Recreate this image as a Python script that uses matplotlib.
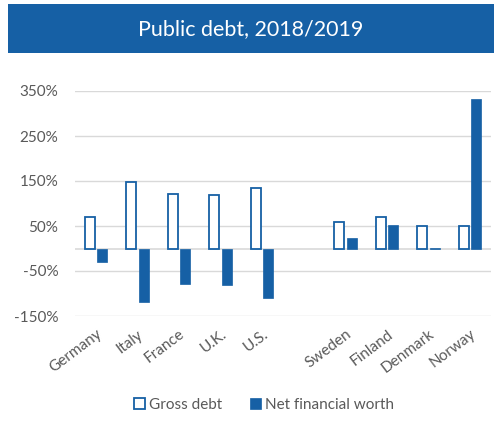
import matplotlib
matplotlib.use("Agg")
import matplotlib.pyplot as plt
import numpy as np
from matplotlib.patches import Rectangle

countries = ["Germany", "Italy", "France", "U.K.", "U.S.", "", "Sweden", "Finland", "Denmark", "Norway"]
gross_debt = [71, 147, 122, 118, 135, np.nan, 58, 71, 49, 49]
net_worth = [-31, -118, -78, -82, -111, np.nan, 24, 53, 1, 333]
yticks = [-150, -50, 50, 150, 250, 350]
ytick_labels = ["-150%", "-50%", "50%", "150%", "250%", "350%"]
title = "Public debt, 2018/2019"

BLUE = "#1660A5"
GRAY = "#595959"
plt.rcParams['font.family'] = ['Lato', 'DejaVu Sans']

fig = plt.figure(figsize=(4.94, 4.24), dpi=100)
# banner
fig.patches.append(Rectangle((8/494, 1 - 53/424), (494-8)/494, (53-4)/424,
                             transform=fig.transFigure, facecolor=BLUE, edgecolor='none'))
fig.text((8+494)/2/494, 1 - 29/424, title, color='white', fontsize=15.5, ha='center', va='center')

ax = fig.add_axes([75/494, 108/424, (491-75)/494, (316-91)/424])
x = np.arange(len(countries))
w = 0.24
gap = 0.06
ax.bar(x - (w+gap)/2, gross_debt, width=w, facecolor='white', edgecolor=BLUE, linewidth=1.3,
       label="Gross debt", zorder=3)
ax.bar(x + (w+gap)/2, net_worth, width=w, facecolor=BLUE, edgecolor=BLUE, linewidth=0.5,
       label="Net financial worth", zorder=3)

ax.set_xlim(-0.5, len(countries) - 0.5)
ax.set_ylim(-150, 350)
ax.set_yticks(yticks)
ax.set_yticklabels(ytick_labels)
ax.grid(axis='y', color='#D9D9D9', linewidth=1, zorder=0)
ax.axhline(0, color='#D9D9D9', linewidth=1.2, zorder=1)
for s in ax.spines.values():
    s.set_visible(False)
ax.tick_params(axis='both', length=0, colors=GRAY, labelsize=11)
ax.tick_params(axis='y', pad=12)
ax.set_xticks(x)
ax.set_xticklabels(countries, rotation=37, ha='right', rotation_mode='anchor')
ax.tick_params(axis='x', pad=8)

leg = fig.legend(loc='center', bbox_to_anchor=(264/494, 1 - 405/424), ncol=2, frameon=False,
                 fontsize=11, handlelength=0.7, handleheight=0.7, handletextpad=0.3, columnspacing=1.8)
for t in leg.get_texts():
    t.set_color(GRAY)

fig.savefig("out.png", dpi=100)
